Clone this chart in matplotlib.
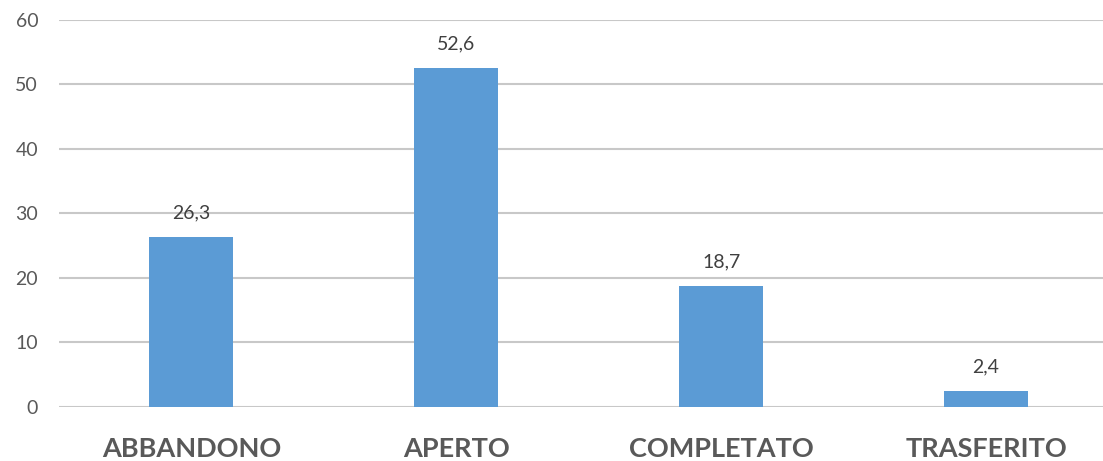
import matplotlib.pyplot as plt
import numpy as np

categories = ["ABBANDONO", "APERTO", "COMPLETATO", "TRASFERITO"]
values = [26.3, 52.6, 18.7, 2.4]
value_labels = ["26,3", "52,6", "18,7", "2,4"]
yticks = [0, 10, 20, 30, 40, 50, 60]

plt.rcParams['font.family'] = ['Lato', 'DejaVu Sans']

fig = plt.figure(figsize=(11.03, 4.61), dpi=100)
ax = fig.add_axes([59 / 1103, 1 - 406.5 / 461, 1 - 59 / 1103, (406.5 - 20) / 461])

x = np.arange(len(categories))
bars = ax.bar(x, values, width=0.317, color="#5B9BD5", zorder=3)

# value labels above each bar
for xi, v, lab in zip(x, values, value_labels):
    ax.annotate(lab, (xi, v), xytext=(0, 11), textcoords="offset points",
                ha="center", va="bottom", fontsize=14, color="#404040")

ax.set_xlim(-0.5, 3.5 - 15.5 / 265)
ax.set_ylim(0, 60)
ax.set_yticks(yticks)
ax.set_xticks(x)
ax.set_xticklabels(categories, fontsize=19.5, fontweight="bold", color="#595959")
ax.tick_params(axis="x", length=0, pad=22)
ax.tick_params(axis="y", length=0, pad=15, labelsize=14, labelcolor="#595959")
ax.grid(axis="y", color="#C8C8C8", linewidth=1.5, zorder=0)
for s in ax.spines.values():
    s.set_visible(False)

plt.savefig("out.png", dpi=100)
